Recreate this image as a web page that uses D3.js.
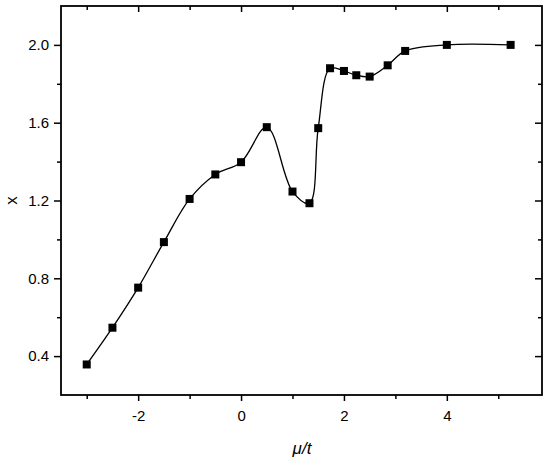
<!DOCTYPE html>
<html>
<head>
<meta charset="utf-8">
<script src="https://cdn.jsdelivr.net/npm/d3@7"></script>
<style>
  body { margin: 0; background: #fff; }
  text { font-family: "Liberation Sans", Arial, sans-serif; fill: #000; }
</style>
</head>
<body>
<div id="chart"></div>
<script>
// data
const muT = [-3, -2.5, -2, -1.5, -1, -0.5, 0, 0.5, 1.0, 1.33, 1.5, 1.73, 2.0, 2.24, 2.5, 2.85, 3.19, 4.0, 5.24];
const xVal = [0.357, 0.546, 0.752, 0.986, 1.208, 1.334, 1.397, 1.577, 1.246, 1.186, 1.572, 1.880, 1.866, 1.844, 1.837, 1.895, 1.969, 2.0, 2.0];
const xTicks = [-2, 0, 2, 4];
const xMinor = [-3, -1, 1, 3, 5];
const yTicks = [0.4, 0.8, 1.2, 1.6, 2.0];
const yMinor = [0.6, 1.0, 1.4, 1.8];

const width = 550, height = 465;
const plotL = 61, plotT = 6, plotR = 542, plotB = 395;

const svg = d3.select("#chart")
    .append("svg")
    .attr("width", width)
    .attr("height", height);

const x = d3.scaleLinear().domain([-3.5, 5.85]).range([plotL, plotR]);
const y = d3.scaleLinear().domain([0.2, 2.2]).range([plotB, plotT]);

const points = muT.map((m, i) => ({ m, v: xVal[i] }));

// curve
const line = d3.line()
    .x(d => x(d.m))
    .y(d => y(d.v))
    .curve(d3.curveCatmullRom.alpha(0.5));

svg.append("path")
    .datum(points)
    .attr("d", line)
    .attr("fill", "none")
    .attr("stroke", "#000")
    .attr("stroke-width", 1.3);

svg.append("g")
    .selectAll("rect")
    .data(points)
    .join("rect")
    .attr("x", d => x(d.m) - 4)
    .attr("y", d => y(d.v) - 4)
    .attr("width", 8)
    .attr("height", 8)
    .attr("fill", "#000");

// axes: bottom/left ticks outward, top/right inward
function styleAxis(g) {
    g.select(".domain").remove();
    g.selectAll("line").attr("stroke", "#000").attr("stroke-width", 1.5);
    g.selectAll("text").style("font-size", "15px");
}

svg.append("g")
    .attr("transform", `translate(0,${plotB})`)
    .call(d3.axisBottom(x).tickValues(xTicks).tickSize(6).tickPadding(9).tickFormat(d => String(d)))
    .call(styleAxis);
svg.append("g")
    .attr("transform", `translate(0,${plotB})`)
    .call(d3.axisBottom(x).tickValues(xMinor).tickSize(4).tickFormat(""))
    .call(styleAxis);

svg.append("g")
    .attr("transform", `translate(${plotL},0)`)
    .call(d3.axisLeft(y).tickValues(yTicks).tickSize(7).tickPadding(5).tickFormat(d => d.toFixed(1)))
    .call(styleAxis);
svg.append("g")
    .attr("transform", `translate(${plotL},0)`)
    .call(d3.axisLeft(y).tickValues(yMinor).tickSize(4).tickFormat(""))
    .call(styleAxis);

svg.append("g")
    .attr("transform", `translate(0,${plotT})`)
    .call(d3.axisBottom(x).tickValues(xTicks).tickSize(6).tickFormat(""))
    .call(styleAxis);
svg.append("g")
    .attr("transform", `translate(0,${plotT})`)
    .call(d3.axisBottom(x).tickValues(xMinor).tickSize(4).tickFormat(""))
    .call(styleAxis);

svg.append("g")
    .attr("transform", `translate(${plotR},0)`)
    .call(d3.axisLeft(y).tickValues(yTicks).tickSize(7).tickFormat(""))
    .call(styleAxis);
svg.append("g")
    .attr("transform", `translate(${plotR},0)`)
    .call(d3.axisLeft(y).tickValues(yMinor).tickSize(4).tickFormat(""))
    .call(styleAxis);

// frame
svg.append("rect")
    .attr("x", plotL)
    .attr("y", plotT)
    .attr("width", plotR - plotL)
    .attr("height", plotB - plotT)
    .attr("fill", "none")
    .attr("stroke", "#000")
    .attr("stroke-width", 1.8);

// axis titles
svg.append("text")
    .attr("x", (plotL + plotR) / 2 + 0.5)
    .attr("y", 454)
    .attr("text-anchor", "middle")
    .style("font-size", "17px")
    .style("font-style", "italic")
    .text("μ/t");

svg.append("text")
    .attr("transform", `translate(17,${y(1.2)}) rotate(-90)`)
    .attr("text-anchor", "middle")
    .style("font-size", "17px")
    .text("x");
</script>
</body>
</html>
